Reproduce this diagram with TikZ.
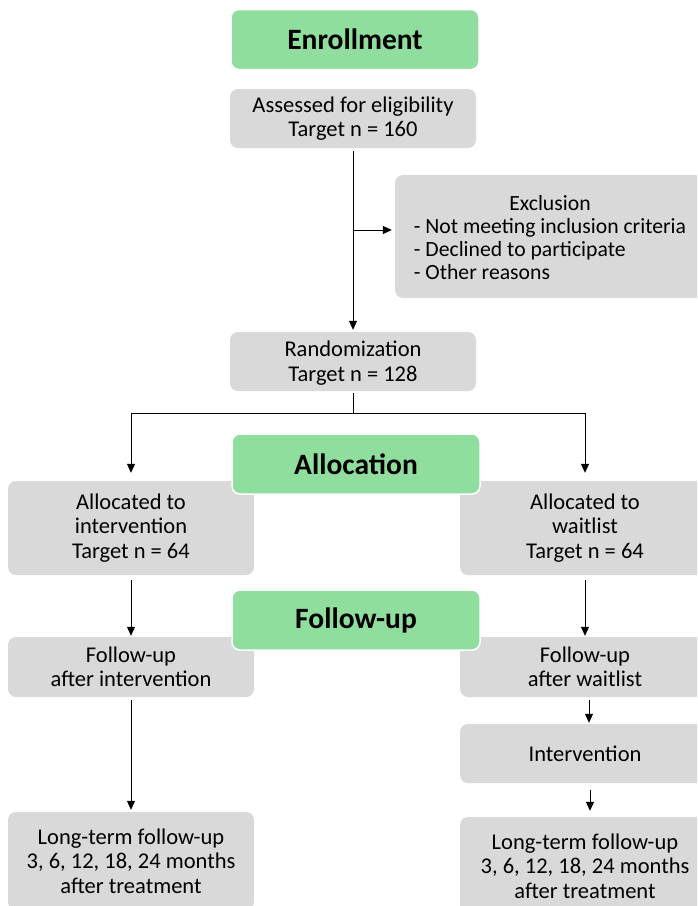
\documentclass[tikz,border=0pt]{standalone}
\usepackage{fontspec}
\setmainfont{Carlito}
\usetikzlibrary{arrows.meta}
\definecolor{boxgray}{HTML}{D9D9D9}
\definecolor{phasegreen}{HTML}{8FDE9E}
\begin{document}
\begin{tikzpicture}[x=1pt,y=-1pt,
  graybox/.style={fill=boxgray, rounded corners=8pt, inner sep=0pt, align=center,
    font=\fontsize{22.5}{24.5}\selectfont},
  phasebox/.style={fill=phasegreen, draw=white, line width=1.5pt, rounded corners=8pt,
    minimum width=248pt, minimum height=60pt, inner sep=0pt,
    font=\fontsize{29.5}{32}\selectfont\bfseries},
  conn/.style={line width=1pt, draw=black},
  arr/.style={conn, -{Triangle[length=9pt,width=8pt]}}]
\useasboundingbox (0,0) rectangle (697,906);
\clip (0,0) rectangle (697,906);
% gray boxes
\node[graybox, minimum width=246pt, minimum height=59pt] (assess) at (353,118.5) {Assessed for eligibility\\Target n = 160};
\node[graybox, minimum width=310pt, minimum height=123pt] (excl) at (550,236.5)
  {\fontsize{21.7}{24}\selectfont\renewcommand\arraystretch{0.96}\raisebox{-4pt}[\height][\depth]{\begin{tabular}{@{}l@{}}\multicolumn{1}{@{}c@{}}{Exclusion}\\- Not meeting inclusion criteria\\- Declined to participate\\- Other reasons\end{tabular}}};
\node[graybox, minimum width=246pt, minimum height=59pt] (rand) at (353,361.5) {\raisebox{-2.5pt}[\height][\depth]{\begin{tabular}{@{}c@{}}Randomization\\Target n = 128\end{tabular}}};
\node[graybox, minimum width=246pt, minimum height=94pt] (allocI) at (131,528) {Allocated to\\intervention\\Target n = 64};
\node[graybox, minimum width=250pt, minimum height=94pt] (allocW) at (585,528) {Allocated to\\waitlist\\Target n = 64};
\node[graybox, minimum width=246pt, minimum height=60pt] (fuI) at (131,667) {Follow-up\\after intervention};
\node[graybox, minimum width=250pt, minimum height=60pt] (fuW) at (585,667) {Follow-up\\after waitlist};
\node[graybox, minimum width=250pt, minimum height=59pt] (interv) at (585,753.5) {Intervention};
\node[graybox, minimum width=246pt, minimum height=98pt] (ltI) at (131,861) {Long-term follow-up\\3, 6, 12, 18, 24 months\\after treatment};
\node[graybox, minimum width=250pt, minimum height=98pt] (ltW) at (585,866) {Long-term follow-up\\3, 6, 12, 18, 24 months\\after treatment};
% connectors
\draw[arr, shorten <=3pt, shorten >=2pt] (assess.south) -- (rand.north);
\coordinate (exbr) at (353,230);
\draw[arr, shorten >=3pt] (exbr) -- (excl.west |- exbr);
\coordinate (split) at (353,413);
\draw[conn, shorten <=2pt] (rand.south) -- (split);
\draw[arr, shorten >=8pt] (split) -| (allocI.north);
\draw[arr, shorten >=8pt] (split) -| (allocW.north);
\draw[arr, shorten <=5pt, shorten >=1pt] (allocI.south) -- (fuI.north);
\draw[arr, shorten <=5pt, shorten >=1pt] (allocW.south) -- (fuW.north);
\draw[arr, shorten <=3pt, shorten >=2pt] (fuI.south) -- (ltI.north);
\draw[arr, shorten <=3pt, shorten >=1pt] ([xshift=4pt]fuW.south) -- ([xshift=4pt]interv.north);
\draw[arr, shorten <=7pt, shorten >=6pt] ([xshift=5pt]interv.south) -- ([xshift=5pt]ltW.north);
% phase boxes
\node[phasebox] (enroll) at (355,39.5) {Enrollment};
\node[phasebox] (alloc) at (356,464) {Allocation};
\node[phasebox] (follow) at (356,620) {Follow-up};
\end{tikzpicture}
\end{document}
